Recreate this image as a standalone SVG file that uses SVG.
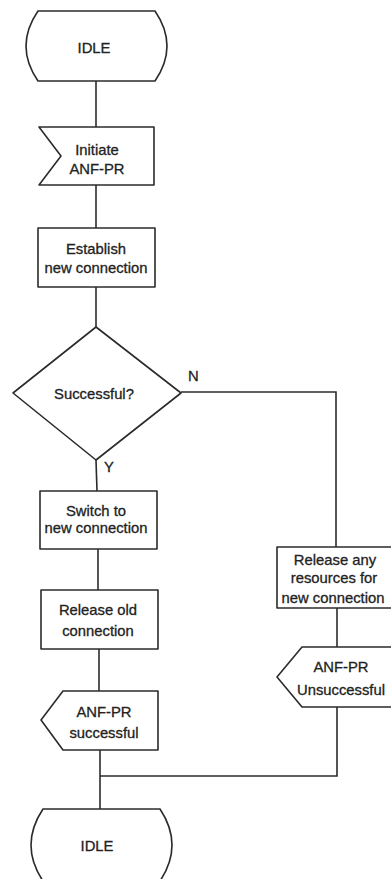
<svg xmlns="http://www.w3.org/2000/svg" width="391" height="879" viewBox="0 0 391 879">
<style>
.s{fill:#fff;stroke:#2b2b2b;stroke-width:1.6;stroke-linejoin:round}
.c{fill:none;stroke:#2b2b2b;stroke-width:1.6}
text{font-family:"Liberation Sans",Arial,sans-serif;font-size:14.8px;fill:#222;stroke:#222;stroke-width:0.3;text-anchor:middle}
.l{text-anchor:start}
</style>
<rect width="391" height="879" fill="#fff"/>
<g id="connectors">
<polyline class="c" points="96,81 96,127"/>
<polyline class="c" points="96,185 96,228"/>
<polyline class="c" points="96,287 96,327"/>
<polyline class="c" points="96,460 97,491"/>
<polyline class="c" points="98,549 98,590"/>
<polyline class="c" points="99,649 99,691"/>
<polyline class="c" points="100,750 100,809"/>
<polyline class="c" points="181,392 336,392 336,547"/>
<polyline class="c" points="337,608 337,647"/>
<polyline class="c" points="337,707 337,776 100,776"/>
<text class="l" x="188" y="381">N</text>
<text class="l" x="104" y="472">Y</text>
</g>
<g id="idle1">
<path class="s" d="M38,11 H155 Q179,46 155,81 H38 Q14,46 38,11 Z"/>
<text x="94" y="53">IDLE</text>
</g>
<g id="initiate">
<polygon class="s" points="39,127 154,127 154,185 39,185 61,156"/>
<text x="97" y="155">Initiate</text>
<text x="97" y="174">ANF-PR</text>
</g>
<g id="establish">
<rect class="s" x="38" y="228" width="117" height="59"/>
<text x="96" y="254">Establish</text>
<text x="96" y="273">new connection</text>
</g>
<g id="decision">
<polygon class="s" points="96,327 181,393 96,460 13,393"/>
<text x="94" y="399">Successful?</text>
</g>
<g id="switch">
<rect class="s" x="40" y="491" width="117" height="58"/>
<text x="96" y="516">Switch to</text>
<text x="96" y="533">new connection</text>
</g>
<g id="releaseold">
<rect class="s" x="41" y="590" width="117" height="59"/>
<text x="98" y="615">Release old</text>
<text x="98" y="636">connection</text>
</g>
<g id="success">
<polygon class="s" points="63,691 158,691 158,750 63,750 41,720"/>
<text x="104" y="717">ANF-PR</text>
<text x="104" y="738">successful</text>
</g>
<g id="releaseany">
<rect class="s" x="277" y="547" width="118" height="61"/>
<text x="335" y="565">Release any</text>
<text x="334" y="583">resources for</text>
<text x="333" y="603">new connection</text>
</g>
<g id="unsuccess">
<polygon class="s" points="302,647 395,647 395,707 302,707 277,677"/>
<text x="341" y="672">ANF-PR</text>
<text x="341" y="695">Unsuccessful</text>
</g>
<g id="idle2">
<path class="s" d="M43,809 H160 Q184,845 160,881 H43 Q19,845 43,809 Z"/>
<text x="97" y="851">IDLE</text>
</g>
</svg>
